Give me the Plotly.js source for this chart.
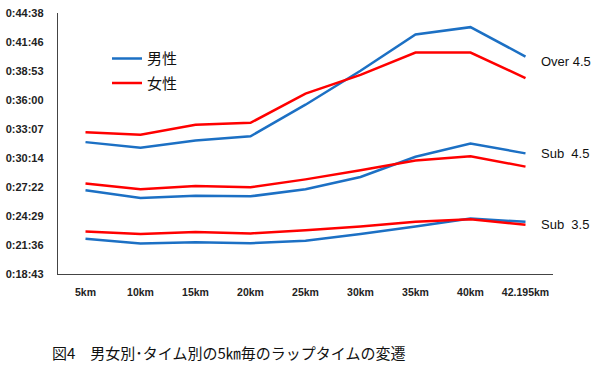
<!DOCTYPE html>
<html><head><meta charset="utf-8">
<script src="https://cdn.plot.ly/plotly-3.0.1.min.js"></script>
<style>html,body{margin:0;padding:0;background:#fff}</style>
</head><body><div id="chart" style="width:600px;height:366px"></div>
<script>
// categories (lap points)
const categories = ['5km','10km','15km','20km','25km','30km','35km','40km','42.195km'];
// lap times in seconds
const over45Male   = [1909,1875,1919,1944,2132,2334,2550,2594,2419];
const over45Female = [1968,1953,2012,2024,2198,2310,2443,2443,2291];
const sub45Male    = [1622,1576,1590,1586,1628,1701,1822,1901,1842];
const sub45Female  = [1663,1628,1647,1640,1687,1741,1800,1825,1763];
const sub35Male    = [1333,1305,1313,1307,1322,1361,1406,1454,1434];
const sub35Female  = [1377,1361,1373,1365,1384,1406,1434,1450,1416];
// y ticks (Excel day fractions 0.013..0.031)
const tickDays = [0.013,0.015,0.017,0.019,0.021,0.023,0.025,0.027,0.029,0.031];
const tickLabels = ['0:18:43','0:21:36','0:24:29','0:27:22','0:30:14','0:33:07','0:36:00','0:38:53','0:41:46','0:44:38'];
const groupLabels = ['Over 4.5','Sub\u00a0 4.5','Sub\u00a0 3.5'];
const legendNames = ['男性','女性'];
const titleText = '図4　男女別･タイム別の5㎞毎のラップタイムの変遷';

const BLUE = '#1c70c4', RED = '#ff0000';
const tickVals = tickDays.map(d => d * 86400);
const groups = [[over45Male, over45Female],[sub45Male, sub45Female],[sub35Male, sub35Female]];
const traces = [];
groups.forEach((g, i) => {
  traces.push({x: categories, y: g[0], type:'scatter', mode:'lines', name: legendNames[0],
    legendgroup:'m', showlegend: i===0, line:{color:BLUE, width:2.5}});
  traces.push({x: categories, y: g[1], type:'scatter', mode:'lines', name: legendNames[1],
    legendgroup:'f', showlegend: i===0, line:{color:RED, width:2.5}});
});
const labelY = [over45Male[8] - 30, sub45Male[8], sub35Female[8]];
const annotations = groups.map((g, i) => ({
  x: 8.25, y: labelY[i], xref:'x', yref:'y', xanchor:'left', yanchor:'middle',
  text: groupLabels[i], showarrow:false, font:{family:'Liberation Sans, Arial, sans-serif', size:13, color:'#111'}
}));
annotations.push({x:-0.016, y:-0.30, xref:'paper', yref:'paper', xanchor:'left', yanchor:'middle',
  text:titleText, showarrow:false, font:{family:'Noto Sans CJK JP, sans-serif', size:15, color:'#111'}});

const layout = {
  width:600, height:366,
  margin:{l:58, r:47, t:13, b:92},
  paper_bgcolor:'#fff', plot_bgcolor:'#fff',
  showlegend:true,
  legend:{x:0.099, y:0.888, xanchor:'left', yanchor:'top', bgcolor:'rgba(0,0,0,0)',
    font:{family:'Noto Sans CJK JP, sans-serif', size:15, color:'#111'}, tracegroupgap:2, traceorder:'grouped'},
  xaxis:{type:'category', range:[-0.5,8.5], showline:true, linecolor:'#444', linewidth:1.2,
    showgrid:false, zeroline:false, ticks:'', ticklabelstandoff:8,
    tickfont:{family:'Liberation Sans, Arial, sans-serif', size:10.5, color:'#222', weight:'bold'}},
  yaxis:{range:[tickVals[0], tickVals[tickVals.length-1]], tickvals:tickVals, ticktext:tickLabels,
    showline:true, linecolor:'#444', linewidth:1.2, showgrid:false, zeroline:false, ticks:'',
    ticklabelstandoff:11,
    tickfont:{family:'Liberation Sans, Arial, sans-serif', size:11, color:'#222', weight:'bold'}},
  annotations: annotations
};
Plotly.newPlot('chart', traces, layout, {staticPlot:true, displayModeBar:false});
</script></body></html>
